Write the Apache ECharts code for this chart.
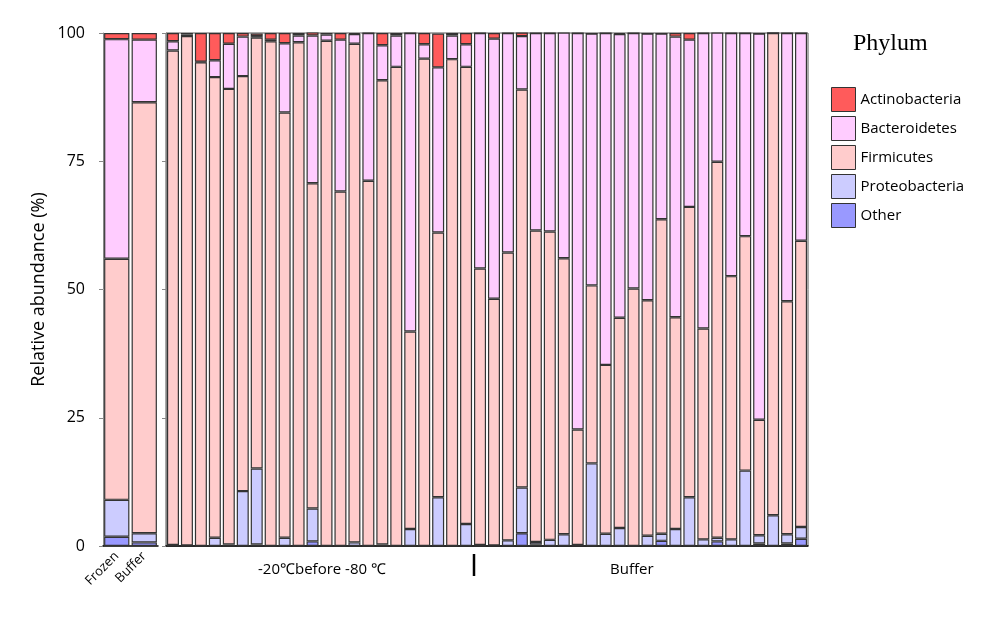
<!DOCTYPE html>
<html>
<head>
<meta charset="utf-8">
<script src="https://cdn.jsdelivr.net/npm/echarts@6/dist/echarts.min.js"></script>
<style>html,body{margin:0;padding:0;background:#fff}#chart{width:1000px;height:621px}</style>
</head>
<body>
<div id="chart"></div>
<script>
// 左侧汇总
var sumCats = ['Frozen', 'Buffer'];
var sumAct = [1.2, 1.3];
var sumBac = [42.8, 12.2];
var sumFirm = [47.0, 84.0];
var sumProt = [7.2, 1.8];
var sumOther = [1.8, 0.7];

// 右侧样本: 前22个 -20℃before -80℃, 后24个 Buffer
var samples = [];
for (var i = 1; i <= 46; i++) samples.push('S' + i);
var act = [1.6,0.3,5.6,5.3,2.1,0.7,0.5,1.3,2.0,0.5,0.7,0.3,1.3,0.2,0,2.4,0.5,0,2.2,6.6,0.5,2.2,
           0,1.1,0,0.7,0,0,0,0,0,0,0.2,0,0,0,0.7,1.3,0,0,0,0,0,0,0,0];
var bac = [1.8,0.3,0.1,3.3,8.8,7.7,0.3,0.3,13.5,1.3,28.8,1.2,29.6,1.9,28.8,6.8,6.1,58.2,2.8,32.2,4.6,4.4,
           45.9,50.7,42.8,10.4,38.5,38.7,44.0,77.3,49.1,64.7,55.3,49.8,52.0,36.2,54.7,32.6,57.6,25.2,47.4,39.6,75.3,0,52.3,40.5];
var firm = [96.4,99.3,94.3,89.8,88.8,80.9,84.0,98.4,82.9,98.2,63.4,98.5,69.1,97.2,71.2,90.5,93.4,38.5,95.0,51.6,94.9,89.1,
            53.9,48.1,56.1,77.6,60.7,60.1,53.8,22.5,34.7,32.9,41.0,50.2,45.9,61.3,41.3,56.6,41.1,73.3,51.3,45.7,22.5,94.0,45.4,55.8];
var prot = [0.1,0.1,0,1.6,0.3,10.7,14.8,0,1.6,0,6.4,0,0,0.7,0,0.3,0,3.3,0,9.5,0,4.3,
            0.2,0.1,1.1,8.9,0.5,1.2,2.3,0.2,16.1,2.4,3.5,0,2.0,1.4,3.3,9.5,1.3,0.7,1.3,14.7,1.6,6.0,1.8,2.3];
var other = [0.1,0,0,0,0,0,0.3,0,0,0,0.9,0,0,0,0,0,0,0,0,0,0,0,
             0,0,0,2.5,0.3,0,0,0,0,0,0,0,0,1.0,0,0,0,0.9,0,0,0.5,0,0.5,1.4];
var yTicks = [0, 25, 50, 75, 100];

var names = ['Actinobacteria', 'Bacteroidetes', 'Firmicutes', 'Proteobacteria', 'Other'];
var colors = {Actinobacteria: '#ff5b5b', Bacteroidetes: '#ffccff', Firmicutes: '#ffcccc', Proteobacteria: '#ccccff', Other: '#9999ff'};
var font = 'Open Sans';

function mk(name, data, idx) {
    return {
        name: name, type: 'bar', stack: 's' + idx, data: data,
        xAxisIndex: idx, yAxisIndex: idx,
        barCategoryGap: idx === 0 ? '8%' : '14%',
        itemStyle: {color: colors[name], borderColor: '#333', borderWidth: 1.2},
        emphasis: {disabled: true}
    };
}
var series = [];
[[other, sumOther, 'Other'], [prot, sumProt, 'Proteobacteria'], [firm, sumFirm, 'Firmicutes'],
 [bac, sumBac, 'Bacteroidetes'], [act, sumAct, 'Actinobacteria']].forEach(function (d) {
    series.push(mk(d[2], d[1], 0));
    series.push(mk(d[2], d[0], 1));
});

var chart = echarts.init(document.getElementById('chart'));
chart.setOption({
    animation: false,
    grid: [
        {left: 103, width: 55, top: 33, bottom: 75},
        {left: 166, width: 642, top: 33, bottom: 75, show: true, borderColor: '#555', borderWidth: 1}
    ],
    xAxis: [
        {type: 'category', gridIndex: 0, data: sumCats,
         axisLine: {lineStyle: {color: '#000', width: 1.5}}, axisTick: {show: false},
         axisLabel: {rotate: 45, color: '#000', fontFamily: font, fontSize: 13, margin: 8}},
        {type: 'category', gridIndex: 1, data: samples,
         axisLine: {lineStyle: {color: '#000', width: 1.5}}, axisTick: {show: false}, axisLabel: {show: false}}
    ],
    yAxis: [
        {type: 'value', gridIndex: 0, min: 0, max: 100, interval: 25,
         name: 'Relative abundance (%)', nameLocation: 'middle', nameGap: 55,
         nameTextStyle: {fontFamily: font, fontSize: 18, color: '#000'},
         axisLine: {show: true, lineStyle: {color: '#888'}}, axisTick: {show: true, length: 4},
         splitLine: {show: false},
         axisLabel: {color: '#000', fontFamily: font, fontSize: 16, margin: 18,
                     formatter: function (v) { return yTicks.indexOf(v) >= 0 ? v : ''; }}},
        {type: 'value', gridIndex: 1, min: 0, max: 100, interval: 25,
         axisLine: {show: true, lineStyle: {color: '#888'}}, axisTick: {show: true, length: 4},
         splitLine: {show: false}, axisLabel: {show: false}}
    ],
    legend: {
        orient: 'vertical', left: 826, top: 82, itemWidth: 24, itemHeight: 24, itemGap: 4,
        data: names, icon: 'rect',
        itemStyle: {borderColor: '#333', borderWidth: 1},
        textStyle: {fontFamily: font, fontSize: 15, color: '#000'}
    },
    graphic: [
        {type: 'text', left: 853, top: 32, style: {text: 'Phylum', font: '24px "Liberation Serif", serif', fill: '#000'}},
        {type: 'text', left: 258, top: 562, style: {text: '-20℃before -80 ℃', font: '15px "Open Sans"', fill: '#000'}},
        {type: 'text', left: 610, top: 562, style: {text: 'Buffer', font: '15px "Open Sans"', fill: '#000'}},
        {type: 'line', shape: {x1: 474, y1: 554, x2: 474, y2: 576}, style: {stroke: '#000', lineWidth: 2.5}}
    ],
    series: series
});
</script>
</body>
</html>
